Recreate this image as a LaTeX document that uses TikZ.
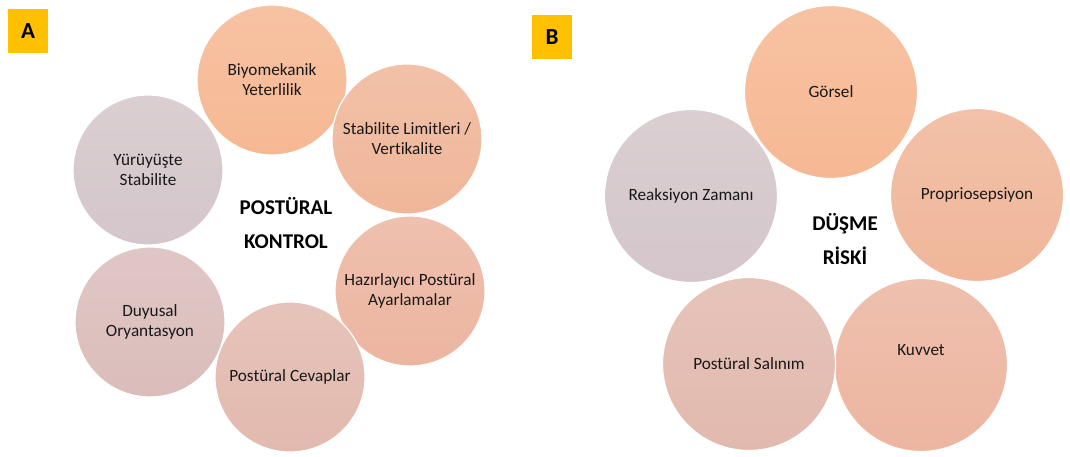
\documentclass[tikz,border=0pt]{standalone}
\usepackage{fontspec}
\setmainfont[Ligatures=NoCommon]{Carlito}
\begin{document}
\begin{tikzpicture}[x=1pt,y=-1pt,
  bub/.style={circle,draw=white,line width=1.2pt,minimum size=#1,inner sep=0pt,align=center,font=\fontsize{17.2}{20}\selectfont,text=black!90},
  tag/.style={fill=tagc,minimum width=40pt,minimum height=44pt,inner sep=0pt,font=\fontsize{23}{24}\selectfont\bfseries},
  ctr/.style={align=center,font=\fontsize{21}{34}\selectfont\bfseries}]
\definecolor{tagc}{HTML}{FFC000}
\definecolor{cA}{HTML}{F6B893}
\definecolor{cB}{HTML}{F0B699}
\definecolor{cC}{HTML}{ECB5A0}
\definecolor{cD}{HTML}{E2B9AE}
\definecolor{cE}{HTML}{DABDBB}
\definecolor{cF}{HTML}{D4C6CA}
\useasboundingbox (0,0) rectangle (1070,457);
\fill[white] (0,0) rectangle (1070,457);
% Panel A
\node[tag] (ta) at (28,31) {A};
\node[bub=150pt,top color=cA!85!white,bottom color=cA] (a1) at (272,80) {Biyomekanik\\Yeterlilik};
\node[bub=150pt,top color=cB!85!white,bottom color=cB] (a2) at (407,139) {Stabilite Limitleri /\\Vertikalite};
\node[bub=150pt,top color=cC!85!white,bottom color=cC] (a3) at (410,291) {Hazırlayıcı Postüral\\Ayarlamalar};
\node[bub=150pt,top color=cD!85!white,bottom color=cD] (a4) at (290,377) {Postüral Cevaplar};
\node[bub=150pt,top color=cE!85!white,bottom color=cE] (a5) at (150,322) {Duyusal\\Oryantasyon};
\node[bub=150pt,top color=cF!85!white,bottom color=cF] (a6) at (148,170) {Yürüyüşte\\Stabilite};
\node[ctr] (ca) at (286,223) {POSTÜRAL\\KONTROL};
% Panel B
\node[tag] (tb) at (552,37) {B};
\node[bub=173pt,top color=cA!85!white,bottom color=cA] (b1) at (831,92) {Görsel};
\node[bub=173pt,top color=cB!85!white,bottom color=cB] (b2) at (977,195) {Propriosepsiyon};
\node[bub=173pt,top color=cC!85!white,bottom color=cC] (b3) at (921,365) {Kuvvet\\[10pt]};
\node[bub=173pt,top color=cD!85!white,bottom color=cD] (b4) at (749,364) {Postüral Salınım};
\node[bub=173pt,top color=cF!85!white,bottom color=cF] (b5) at (691,196) {Reaksiyon Zamanı};
\node[ctr] (cb) at (845,239) {DÜŞME\\RİSKİ};
\end{tikzpicture}
\end{document}
